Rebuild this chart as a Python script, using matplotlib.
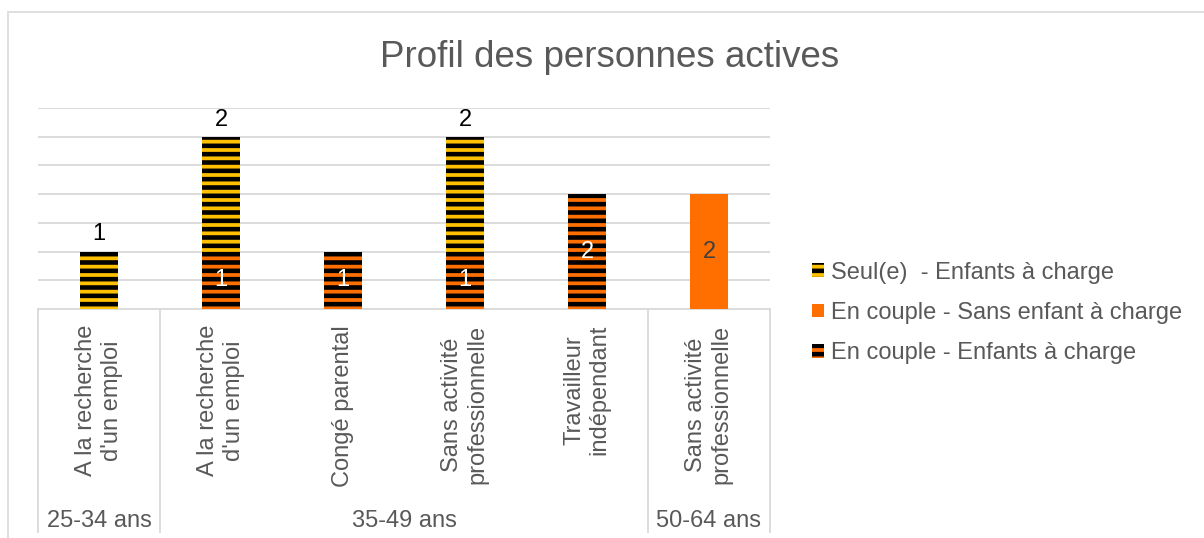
import matplotlib
matplotlib.use("Agg")
import matplotlib.pyplot as plt
import matplotlib.patches as mpatches
import numpy as np

# chart values
categories = ["A la recherche\nd'un emploi", "A la recherche\nd'un emploi", "Congé parental",
              "Sans activité\nprofessionnelle", "Travailleur\nindépendant", "Sans activité\nprofessionnelle"]
groups = ["25-34 ans", "35-49 ans", "50-64 ans"]
group_sizes = [1, 4, 1]
couple_enfants = [0, 1, 1, 1, 2, 0]
couple_sans = [0, 0, 0, 0, 0, 2]
seul_enfants = [1, 2, 0, 2, 0, 0]
series_names = ["Seul(e)  - Enfants à charge", "En couple - Sans enfant à charge", "En couple - Enfants à charge"]

yellow = "#FFC000"
orange = "#FF6F00"
grey_txt = "#595959"
line_grey = "#D9D9D9"

plt.rcParams['font.family'] = ['Liberation Sans', 'DejaVu Sans']
plt.rcParams['hatch.linewidth'] = 3.3

fig = plt.figure(figsize=(12.04, 5.38), dpi=100)
W, H = 1204, 538
ax = fig.add_axes([38 / W, 1 - 309 / H, 732 / W, 201 / H])

x = np.arange(len(categories))
bw = 0.31
b1 = ax.bar(x, couple_enfants, bw, color=orange, edgecolor="black", hatch="--", linewidth=0, zorder=3)
b2 = ax.bar(x, couple_sans, bw, bottom=couple_enfants, color=orange, linewidth=0, zorder=3)
bottom3 = np.array(couple_enfants) + np.array(couple_sans)
b3 = ax.bar(x, seul_enfants, bw, bottom=bottom3, color=yellow, edgecolor="black", hatch="--",
            linewidth=0, zorder=3)

# data labels
for i in range(len(x)):
    if couple_enfants[i]:
        ax.text(x[i], couple_enfants[i] / 2, str(couple_enfants[i]), ha="center", va="center",
                color="white", fontsize=17, zorder=4)
    if couple_sans[i]:
        ax.text(x[i], couple_enfants[i] + couple_sans[i] / 2, str(couple_sans[i]), ha="center",
                va="center", color="#404040", fontsize=17, zorder=4)
    if seul_enfants[i]:
        ax.annotate(str(seul_enfants[i]), (x[i], bottom3[i] + seul_enfants[i]), xytext=(0, 8),
                    textcoords="offset points", ha="center", va="baseline", color="black",
                    fontsize=17, zorder=4)

ax.set_xlim(-0.5, len(categories) - 0.5)
ax.set_ylim(0, 3.5)
ax.set_yticks(np.arange(0.5, 3.51, 0.5))
ax.yaxis.grid(True, color=line_grey, linewidth=1.3)
ax.set_axisbelow(True)
ax.tick_params(left=False, labelleft=False, bottom=False, labelbottom=False)
for s in ["top", "right", "left"]:
    ax.spines[s].set_visible(False)
ax.spines["bottom"].set_color(line_grey)
ax.spines["bottom"].set_linewidth(1.3)

# multi-level category axis
tr = ax.get_xaxis_transform()
ybot = -(532 - 309) / 201
edges = np.concatenate([[0], np.cumsum(group_sizes)]) - 0.5
for e in edges:
    ax.plot([e, e], [0, ybot], color=line_grey, linewidth=1.3, transform=tr, clip_on=False)
for i, c in enumerate(categories):
    ax.text(x[i], -(325 - 309) / 201, c, rotation=90, ha="center", va="top", multialignment="center",
            color=grey_txt, fontsize=17, transform=tr, linespacing=1.2)
for g, a, b in zip(groups, edges[:-1], edges[1:]):
    ax.text((a + b) / 2, -(527 - 309) / 201, g, ha="center", va="baseline", color=grey_txt,
            fontsize=17, transform=tr)

fig.text(610 / W, 1 - 67 / H, "Profil des personnes actives", ha="center", va="baseline",
         color=grey_txt, fontsize=26.5)

handles = [mpatches.Patch(facecolor=yellow, edgecolor="black", hatch="--", linewidth=0),
           mpatches.Patch(facecolor=orange, linewidth=0),
           mpatches.Patch(facecolor=orange, edgecolor="black", hatch="--", linewidth=0)]
fig.legend(handles, series_names, loc="center left", bbox_to_anchor=(791 / W, 1 - 313 / H),
           frameon=False, fontsize=17, labelcolor=grey_txt, handlelength=0.5, handleheight=0.5,
           handletextpad=0.3, labelspacing=0.78)

# chart border
fig.patches.append(mpatches.Rectangle((7.5 / W, -0.1), 1.2, 1.1 - 12.5 / H, transform=fig.transFigure,
                                      fill=False, edgecolor=line_grey, linewidth=1.2))

fig.savefig("out.png", dpi=100)
